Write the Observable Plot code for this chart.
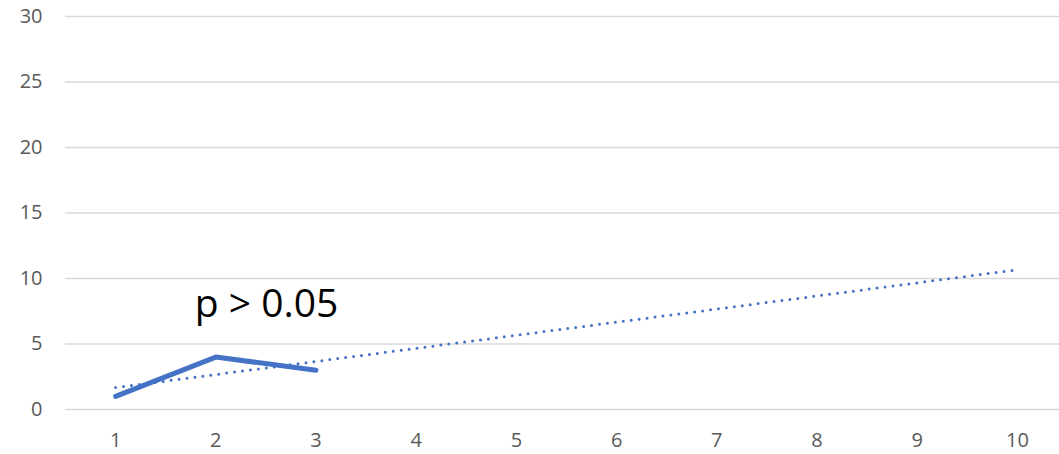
<!DOCTYPE html>
<html>
<head>
<meta charset="utf-8">
<script src="https://cdn.jsdelivr.net/npm/d3@7"></script>
<script src="https://cdn.jsdelivr.net/npm/@observablehq/plot@0.6"></script>
<style>
  html, body { margin: 0; padding: 0; background: #fff; }
  #chart { width: 1059px; height: 454px; }
</style>
</head>
<body>
<div id="chart"></div>
<script>
// Observed series and its linear trend
const categories = [1, 2, 3];
const values = [1, 4, 3];
const trendX = [1, 10];
const trendY = [1.67, 10.67];
const xTicks = [1, 2, 3, 4, 5, 6, 7, 8, 9, 10];
const yTicks = [0, 5, 10, 15, 20, 25, 30];
const note = "p > 0.05";

const series = categories.map((c, i) => ({x: c, y: values[i]}));
const trend = trendX.map((c, i) => ({x: c, y: trendY[i]}));

const blue = "#4472c4";
const tickColor = "#595959";
const font = "'Open Sans', sans-serif";

const chart = Plot.plot({
  width: 1059,
  height: 454,
  marginLeft: 65,
  marginRight: 0,
  marginTop: 16,
  marginBottom: 45,
  style: {fontFamily: font, background: "#fff"},
  x: {domain: [0.5, 10.42], axis: null},
  y: {domain: [0, 30], axis: null},
  marks: [
    Plot.ruleY(yTicks, {stroke: "#d9d9d9", strokeWidth: 1.5}),
    Plot.line(trend, {x: "x", y: "y", stroke: blue, strokeWidth: 3, strokeDasharray: "0 8", strokeLinecap: "round"}),
    Plot.line(series, {x: "x", y: "y", stroke: blue, strokeWidth: 5, strokeLinecap: "round", strokeLinejoin: "round"}),
    Plot.text([note], {x: 1.79, y: 8, text: d => d, textAnchor: "start", fontSize: 39, fill: "#000", fontFamily: font}),
    // category labels under the frame
    Plot.text(xTicks, {x: d => d, text: d => String(d), frameAnchor: "bottom", lineAnchor: "top", dy: 23, fontSize: 20, fill: tickColor, fontFamily: font}),
    // value labels left of the frame
    Plot.text(yTicks, {y: d => d, text: d => String(d), frameAnchor: "left", textAnchor: "end", dx: -23, fontSize: 20, fill: tickColor, fontFamily: font})
  ]
});
document.getElementById("chart").appendChild(chart);
</script>
</body>
</html>
